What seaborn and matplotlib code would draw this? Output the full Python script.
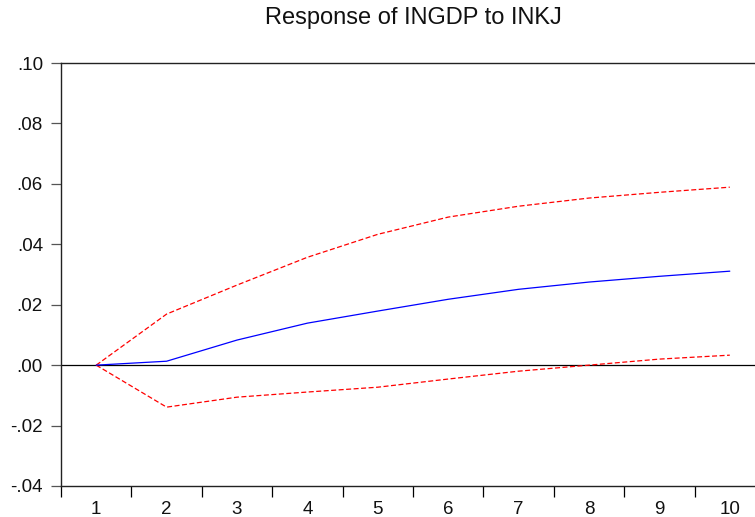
import matplotlib
matplotlib.use("Agg")
import matplotlib.pyplot as plt
import seaborn as sns
import pandas as pd
from matplotlib.ticker import FixedLocator

periods = [1, 2, 3, 4, 5, 6, 7, 8, 9, 10]
response = [0.0, 0.0013, 0.0083, 0.0139, 0.0179, 0.0218, 0.0251, 0.0275, 0.0294, 0.0311]
upper_band = [0.0, 0.0169, 0.0265, 0.0357, 0.0433, 0.0490, 0.0526, 0.0553, 0.0572, 0.0589]
lower_band = [0.0, -0.0139, -0.0106, -0.0089, -0.0073, -0.0046, -0.0020, 0.0000, 0.0020, 0.0033]
y_ticks = [-0.04, -0.02, 0.00, 0.02, 0.04, 0.06, 0.08, 0.10]
y_tick_labels = ["-.04", "-.02", ".00", ".02", ".04", ".06", ".08", ".10"]

sns.set_style("white")
plt.rcParams["font.family"] = ["Liberation Sans", "DejaVu Sans"]

df = pd.DataFrame({"period": periods, "response": response,
                   "upper": upper_band, "lower": lower_band})

fig = plt.figure(figsize=(7.55, 5.17), dpi=100)
ax = fig.add_axes([61 / 755, 31 / 517, 704 / 755, 423 / 517])

ax.axhline(0, color="black", lw=0.9, zorder=1)
sns.lineplot(data=df, x="period", y="upper", ax=ax, color="#ff0000",
             lw=0.9, linestyle=(0, (4, 2)))
sns.lineplot(data=df, x="period", y="lower", ax=ax, color="#ff0000",
             lw=0.9, linestyle=(0, (4, 2)))
sns.lineplot(data=df, x="period", y="response", ax=ax, color="#0000ff", lw=0.9)

ax.set_xlim(0.5, 10.5)
ax.set_ylim(-0.04, 0.10)
ax.set_xlabel("")
ax.set_ylabel("")
ax.set_title("Response of INGDP to INKJ", fontsize=17, pad=28, color="#111111")

ax.set_yticks(y_ticks)
ax.set_yticklabels(y_tick_labels, fontsize=13.5, color="#111111")
ax.set_xticks(periods)
ax.set_xticklabels([str(p) for p in periods], fontsize=13.5, color="#111111")
ax.xaxis.set_minor_locator(FixedLocator([p + 0.5 for p in [0] + periods]))
ax.tick_params(axis="x", which="major", length=0, pad=11)
ax.tick_params(axis="x", which="minor", length=8, width=0.9, color="black",
               direction="out", bottom=True)
ax.tick_params(axis="y", which="major", length=7, width=0.9, color="#555555",
               direction="out", left=True, pad=6)

for side in ["left", "bottom", "top", "right"]:
    ax.spines[side].set_visible(True)
    ax.spines[side].set_color("#222222")
    ax.spines[side].set_linewidth(1.0)

fig.savefig("out.png", dpi=100)
